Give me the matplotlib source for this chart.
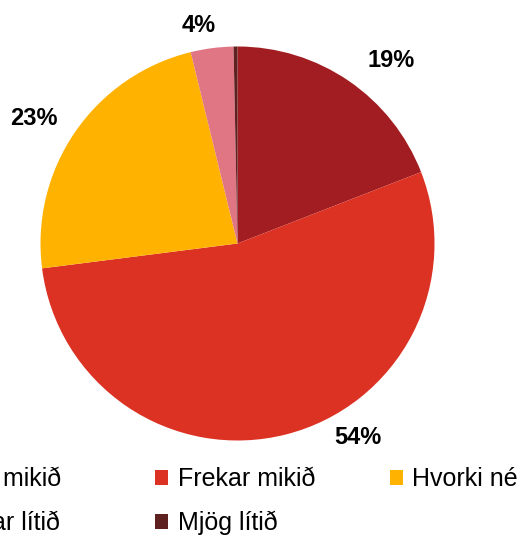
import numpy as np
import matplotlib
matplotlib.use("Agg")
import matplotlib.pyplot as plt
from matplotlib.patches import Patch

plt.rcParams["font.family"] = ["Liberation Sans", "DejaVu Sans"]

categories = ["Mjög mikið", "Frekar mikið", "Hvorki né", "Frekar lítið", "Mjög lítið"]
shares = [19.1, 53.9, 23.2, 3.5, 0.32]
pct_labels = ["19%", "54%", "23%", "4%", ""]
colors = ["#A21D21", "#DC3223", "#FFB300", "#E07584", "#5F2020"]

W, H = 529, 535
fig = plt.figure(figsize=(W / 100, H / 100), dpi=100)
cx, cy, r = 237.5, 243.5, 197
ax = fig.add_axes([(cx - r) / W, (H - cy - r) / H, 2 * r / W, 2 * r / H])

wedges, _ = ax.pie(shares, colors=colors, startangle=90, counterclock=False,
                   radius=1.0, wedgeprops=dict(linewidth=0))
ax.set_xlim(-1, 1)
ax.set_ylim(-1, 1)

# label placement: angle tweak (deg) and radial distance per slice
angle_shift = [-5.6, 17.6, 3.0, 2.6, 0]
label_dist = [1.21, 1.16, 1.21, 1.12, 1.2]
for w, txt, da, d in zip(wedges, pct_labels, angle_shift, label_dist):
    if not txt:
        continue
    mid = np.deg2rad((w.theta1 + w.theta2) / 2 + da)
    ax.annotate(txt, (d * np.cos(mid), d * np.sin(mid)), xytext=(0, 2.2),
                textcoords="offset points", ha="center", va="center_baseline",
                fontsize=17, fontweight="bold", color="black", annotation_clip=False)

# legend: three equal-width columns, row-major like the original
handles = [Patch(facecolor=c, edgecolor="none") for c in colors]
columns = [[0, 3], [1, 4], [2]]
col_x0, col_step = -80, 235
for i, col in enumerate(columns):
    fig.legend([handles[k] for k in col], [categories[k] for k in col],
               loc="upper left", bbox_to_anchor=((col_x0 + i * col_step) / W, 1 - 467 / H),
               frameon=False, fontsize=18, handlelength=0.5, handleheight=0.55,
               handletextpad=0.4, labelspacing=0.78, borderaxespad=0, borderpad=0)

fig.savefig("out.png", dpi=100)
